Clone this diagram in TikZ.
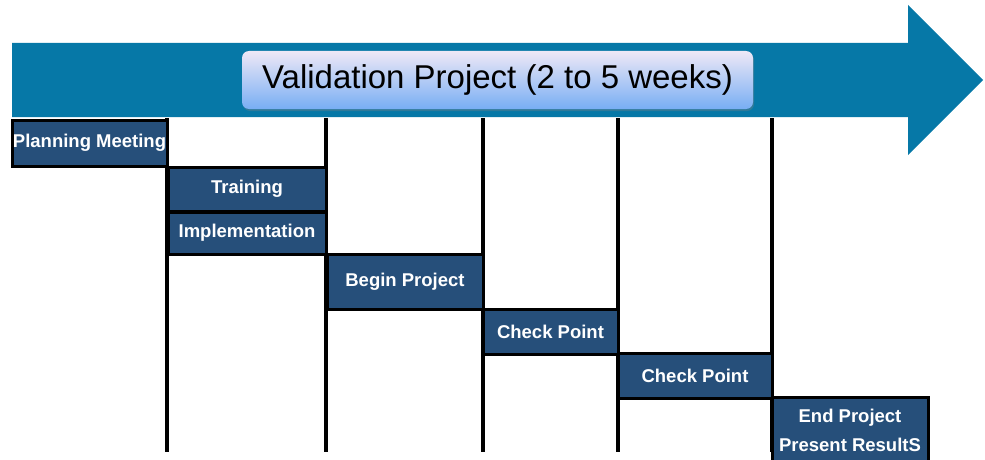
\documentclass[tikz,border=0pt]{standalone}
\usepackage{fontspec}
\setmainfont{Liberation Sans}
\usetikzlibrary{shadows}
\definecolor{arrowblue}{HTML}{0678A7}
\definecolor{boxblue}{HTML}{264F7A}
\definecolor{titletop}{HTML}{EEE8F6}
\definecolor{titlebot}{HTML}{78AEF4}

\begin{document}
\begin{tikzpicture}[x=1pt,y=-1pt,
    task_box/.style={rectangle,draw=black,line width=3pt,fill=boxblue,text=white,
      font=\bfseries\fontsize{18.5}{29}\selectfont,inner sep=0pt,align=center},
    week_line/.style={line width=3.4pt,black}]
    \useasboundingbox (0,0) rectangle (985,460);
    % timeline arrow
    \fill[arrowblue] (12,43) -- (908,43) -- (908,5) -- (983,80) -- (908,155) -- (908,117) -- (12,117) -- cycle;
    \node[rectangle,rounded corners=7pt,top color=titletop,bottom color=titlebot,
      drop shadow={opacity=0.35,shadow xshift=1pt,shadow yshift=-2pt},
      minimum width=511pt,minimum height=58pt,inner sep=0pt,
      font=\fontsize{33}{36}\selectfont] (title) at (497.5,80) {Validation Project (2 to 5 weeks)};
    % week separators
    \foreach \i/\x in {1/167,2/326,3/483,4/618,5/772} {
      \coordinate (t\i) at (\x,118);
      \coordinate (b\i) at (\x,452);
      \draw[week_line] (t\i) -- (b\i);
    }
    % tasks
    \node[task_box,minimum width=155pt,minimum height=46pt] (plan) at (89.5,143) {Planning Meeting};
    \node[task_box,minimum width=158pt,minimum height=44pt] (train) at (247,189) {Training};
    \node[task_box,minimum width=158pt,minimum height=42pt] (impl) at (247,233) {Implementation};
    \node[task_box,minimum width=156pt,minimum height=55pt] (begin) at (405,281.5) {Begin Project};
    \node[task_box,minimum width=135pt,minimum height=45pt] (check1) at (550.5,331.5) {Check Point};
    \node[task_box,minimum width=154pt,minimum height=45pt] (check2) at (695,375.5) {Check Point};
    \node[task_box,minimum width=156pt,minimum height=67pt] (finish) at (850,430.5) {End Project\\Present ResultS};
\end{tikzpicture}
\end{document}
